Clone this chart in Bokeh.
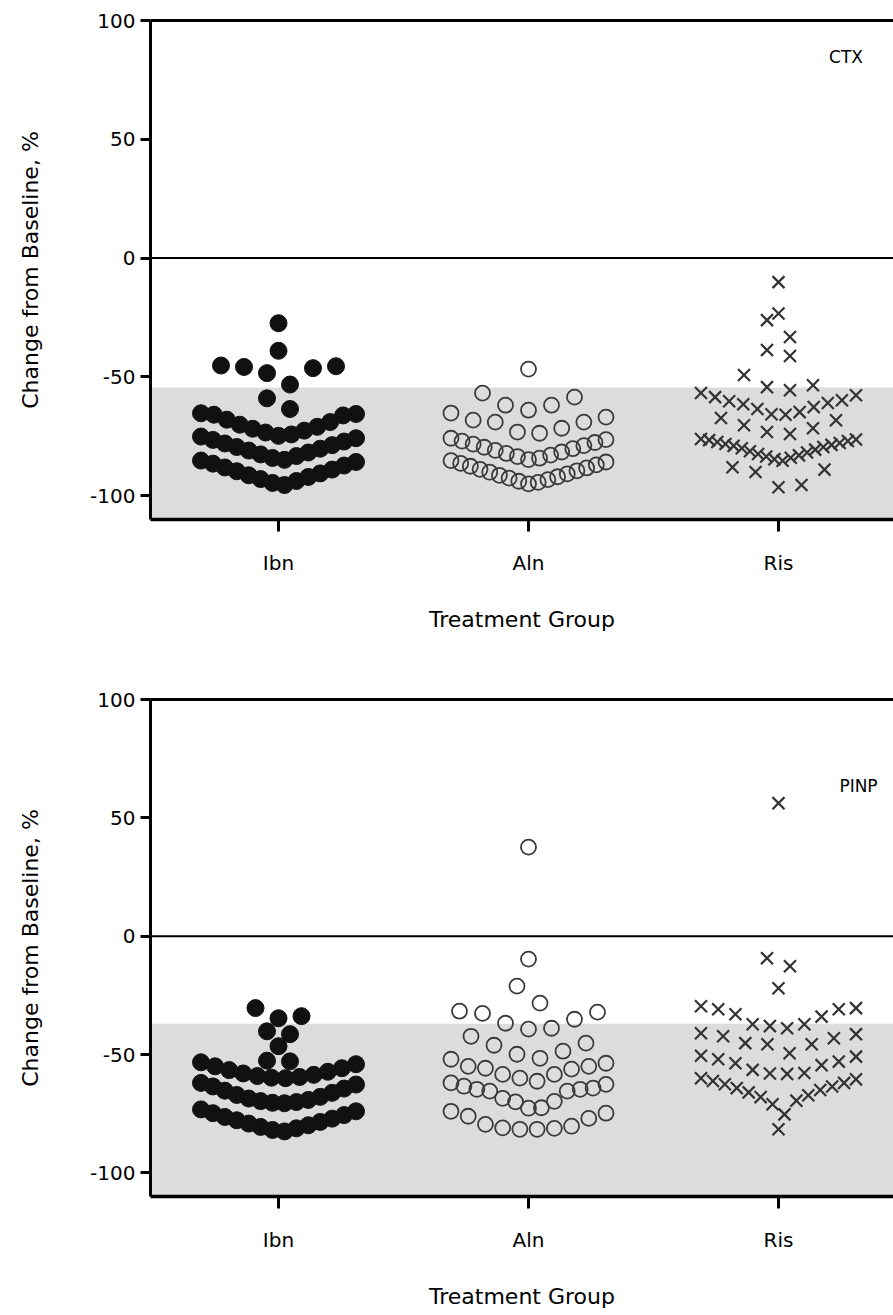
import numpy as np
from bokeh.plotting import figure
from bokeh.models import Range1d, FixedTicker, LinearAxis, Span, BoxAnnotation, Label
from bokeh.layouts import column
from bokeh.embed import file_html
from bokeh.resources import INLINE

# ---------------- data ----------------
groups = ["Ibn", "Aln", "Ris"]
group_pos = [1, 2, 3]
y_ticks = [-100, -50, 0, 50, 100]
y_tick_labels = ["-100", "-50", "0", "50", "100"]

# CTX panel: % change from baseline
ctx_ibn = [-95.5, -94.6, -93.8, -93.0, -92.1, -91.4, -90.6, -89.7, -89.0, -88.1, -87.3, -86.5, -85.8, -85.2,
           -84.9, -84.1, -83.3, -82.6, -81.8, -81.0, -80.2, -79.5, -78.7, -78.0, -77.2, -76.5, -75.8, -75.1,
           -74.8, -74.2, -73.4, -72.6, -71.8, -71.0, -70.1, -69.0, -68.0, -66.2, -65.9, -65.6, -65.3,
           -63.5, -59.0, -53.2, -48.4, -46.3, -45.8, -45.5, -45.2, -39.0, -27.4]
ctx_aln = [-95.0, -94.4, -93.9, -93.2, -92.6, -92.0, -91.4, -90.8, -90.1, -89.5, -88.9, -88.3, -87.6, -87.0,
           -86.4, -85.8, -85.2,
           -84.8, -84.2, -83.5, -82.9, -82.2, -81.6, -80.9, -80.2, -79.6, -78.9, -78.3, -77.6, -77.0, -76.4, -75.8,
           -73.7, -73.2, -71.6, -69.0, -69.0, -68.2, -66.9, -65.2,
           -64.0, -61.9, -61.9, -58.5, -56.8, -46.7]
ctx_ris = [-96.4, -95.5, -90.0, -89.0, -88.0,
           -85.3, -84.6, -84.0, -83.5, -83.0, -82.4, -81.8, -81.3, -80.6, -80.0, -79.5, -79.0, -78.6, -78.2,
           -77.8, -77.4, -77.0, -76.6, -76.3, -76.1,
           -74.0, -73.2, -71.6, -70.3, -68.2, -67.3,
           -65.9, -65.7, -64.8, -63.5, -62.7, -61.5, -61.0, -60.2, -59.8, -58.5, -57.7, -56.8,
           -55.6, -54.3, -53.5, -49.2, -41.2, -38.7, -33.2, -26.1, -23.3, -10.1]

# PINP panel: % change from baseline
pinp_ibn = [-82.5, -81.9, -81.2, -80.6, -79.9, -79.2, -78.5, -77.8, -77.1, -76.4, -75.6, -74.8, -74.0, -73.2,
            -70.6, -70.4, -70.1, -69.7, -69.2, -68.6, -67.9, -67.1, -66.2, -65.3, -64.4, -63.5, -62.7, -62.0,
            -60.0, -59.8, -59.5, -59.1, -58.6, -58.0, -57.3, -56.6, -55.8, -55.0, -54.1, -53.3,
            -52.9, -52.6, -46.5, -41.4, -40.2, -34.7, -33.8, -30.4]
pinp_aln = [-81.6, -81.6, -81.2, -81.0, -80.3, -79.5, -77.0, -76.1, -74.8, -74.0,
            -72.7, -72.5, -70.0, -69.8, -68.5, -65.5, -65.5, -64.7, -64.7, -64.2, -63.4, -62.6, -62.0,
            -61.3, -60.0, -58.4, -58.4, -56.2, -55.8, -55.0, -55.0, -53.7, -52.0,
            -51.6, -49.9, -48.6, -46.1, -45.2, -42.3,
            -39.3, -38.9, -36.8, -35.1, -32.6, -32.1, -31.7,
            -28.3, -21.1, -9.7, 37.6]
pinp_ris = [-81.6,
            -75.3, -71.0, -69.5, -68.0, -67.2, -66.0, -65.0, -64.2, -63.5, -62.6, -62.0, -61.2, -60.5, -60.0,
            -58.2, -58.0, -57.8, -56.5, -54.5, -53.7, -53.0, -52.0, -50.9, -50.5,
            -49.5, -45.7, -45.7, -45.2, -43.1, -42.3, -41.4, -41.0,
            -38.9, -38.0, -37.2, -37.2, -34.0, -33.0, -30.9, -30.9, -30.4, -29.6,
            -22.0, -12.7, -9.3, 56.2]

# shaded reference band (upper limit)
ctx_shade_top = -54.5
pinp_shade_top = -37.0

# row boundaries used by the scatter-dot layout (value units)
ctx_rows = [[-100, -85, -75, -65, -56, -45, -33, 0, 100],
            [-100, -85, -75.5, -65, -55, -40, 100],
            [-100, -86, -76, -66, -56, -46, -36, -26, -16, 0, 100]]
pinp_rows = [[-100, -72.5, -61.5, -53.1, -50, -44, -37, 0, 100],
             [-100, -73.5, -61.5, -51.7, -41, -30, -20, 0, 100],
             [-100, -76, -59, -50, -39.5, -29, -20, 0, 100]]


def swarm(values, edges, center, max_step=0.092, width=0.62):
    vals = np.asarray(values, float)
    xs = np.empty_like(vals)
    idx = np.searchsorted(np.asarray(edges, float), vals, side="right") - 1
    for b in np.unique(idx):
        members = np.where(idx == b)[0]
        order = members[np.argsort(vals[members], kind="stable")]
        n = len(order)
        step = max_step if n < 2 else min(max_step, width / (n - 1))
        for k, m in enumerate(order):
            if n % 2 == 1:
                j = (k + 1) // 2
                pos = 0 if k == 0 else (j if k % 2 == 1 else -j)
            else:
                j = k // 2 + 0.5
                pos = j if k % 2 == 0 else -j
            xs[m] = center + pos * step
    return xs


FONT = "DejaVu Sans"


def make_panel(series, rows, shade_top, tag, tag_xy, height, b_top, b_bottom):
    p = figure(width=893, height=height,
               x_range=Range1d(0.488, 3.46), y_range=Range1d(-110, 100),
               x_axis_type=None, y_axis_type=None,
               output_backend="svg", toolbar_location=None,
               min_border_left=150, min_border_right=0,
               min_border_top=b_top, min_border_bottom=b_bottom)
    p.outline_line_color = None
    p.background_fill_color = "white"
    p.border_fill_color = "white"

    yaxis = LinearAxis(ticker=FixedTicker(ticks=y_ticks),
                       major_label_overrides={float(t): l for t, l in zip(y_ticks, y_tick_labels)})
    yaxis.axis_label = "Change from Baseline, %"
    yaxis.axis_label_text_font = FONT
    yaxis.axis_label_text_font_size = "22px"
    yaxis.axis_label_text_font_style = "normal"
    yaxis.axis_label_text_color = "black"
    yaxis.axis_label_standoff = 44
    yaxis.major_label_text_font = FONT
    yaxis.major_label_text_font_size = "20px"
    yaxis.major_label_text_color = "black"
    yaxis.major_label_standoff = 5
    yaxis.axis_line_width = 3
    yaxis.major_tick_line_width = 3
    yaxis.major_tick_out = 10
    yaxis.major_tick_in = 0
    yaxis.minor_tick_out = 0
    yaxis.minor_tick_in = 0
    p.add_layout(yaxis, "left")

    xaxis = LinearAxis(ticker=FixedTicker(ticks=group_pos),
                       major_label_overrides={float(t): g for t, g in zip(group_pos, groups)})
    xaxis.axis_label = "Treatment Group"
    xaxis.axis_label_text_font = FONT
    xaxis.axis_label_text_font_size = "22px"
    xaxis.axis_label_text_font_style = "normal"
    xaxis.axis_label_text_color = "black"
    xaxis.axis_label_standoff = 29
    xaxis.major_label_text_font = FONT
    xaxis.major_label_text_font_size = "20px"
    xaxis.major_label_text_color = "black"
    xaxis.major_label_standoff = 19
    xaxis.axis_line_width = 3.5
    xaxis.major_tick_line_width = 3
    xaxis.major_tick_out = 12
    xaxis.major_tick_in = 0
    xaxis.minor_tick_out = 0
    xaxis.minor_tick_in = 0
    p.add_layout(xaxis, "below")

    top = LinearAxis(ticker=FixedTicker(ticks=[]))
    top.axis_line_width = 3
    top.major_tick_out = 0
    top.major_tick_in = 0
    top.minor_tick_out = 0
    top.minor_tick_in = 0
    top.major_label_standoff = 0
    p.add_layout(top, "above")

    p.add_layout(BoxAnnotation(top=shade_top, fill_color="#dcdcdc", fill_alpha=1.0,
                               line_color=None, level="underlay"))
    p.add_layout(Span(location=0, dimension="width", line_color="black", line_width=2))

    ibn, aln, ris = series
    p.scatter(swarm(ibn, rows[0], group_pos[0]), ibn, marker="circle", size=17,
              fill_color="#111111", line_color="#111111", line_width=1)
    p.scatter(swarm(aln, rows[1], group_pos[1]), aln, marker="circle", size=15,
              fill_color=None, line_color="#3a3a3a", line_width=1.8)
    p.scatter(swarm(ris, rows[2], group_pos[2]), ris, marker="x", size=17,
              line_color="#333333", line_width=2.2)

    p.add_layout(Label(x=tag_xy[0], y=tag_xy[1], text=tag, text_align="center",
                       text_baseline="middle", text_font=FONT, text_font_size="17px",
                       text_color="black"))
    return p


p1 = make_panel((ctx_ibn, ctx_aln, ctx_ris), ctx_rows, ctx_shade_top, "CTX", (3.27, 84.6),
                663, 20, 144)
p2 = make_panel((pinp_ibn, pinp_aln, pinp_ris), pinp_rows, pinp_shade_top, "PINP", (3.32, 63.4),
                648, 36, 115)

layout = column(p1, p2)
open("out.html", "w").write(file_html(layout, INLINE))
